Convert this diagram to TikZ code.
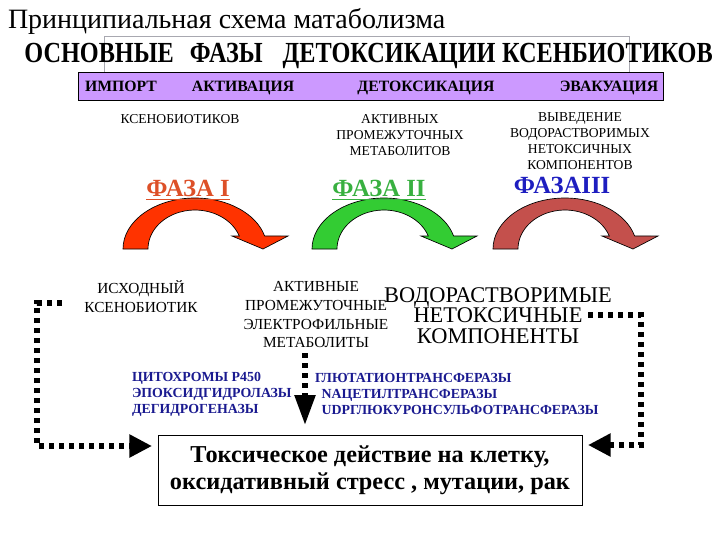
\documentclass[tikz,border=0pt]{standalone}
\usepackage{fontspec}
\setmainfont{Liberation Serif}
\usetikzlibrary{arrows.meta,calc}
\definecolor{barpurple}{HTML}{CC99FF}
\definecolor{framegray}{HTML}{A8A8B0}
\definecolor{phaseIfill}{HTML}{FF3300}
\definecolor{phaseIIfill}{HTML}{33CC33}
\definecolor{phaseIIIfill}{HTML}{C4504C}
\definecolor{phaseItext}{HTML}{DD5028}
\definecolor{phaseIItext}{HTML}{38B040}
\definecolor{phaseIIItext}{HTML}{1E1EC0}
\definecolor{enzblue}{HTML}{1A1A90}
\tikzset{
  titletext/.style={font=\fontsize{21}{24}\selectfont, anchor=base west},
  headtext/.style={font=\fontsize{18.2}{22}\selectfont\bfseries},
  bartext/.style={font=\fontsize{11.8}{14}\selectfont\bfseries, anchor=base},
  smalltext/.style={font=\fontsize{10.2}{12}\selectfont, align=center},
  phasetext/.style={font=\fontsize{18.5}{22}\selectfont\bfseries},
  midtext/.style={font=\fontsize{11.5}{13.9}\selectfont, align=center},
  bigtext/.style={font=\fontsize{16.8}{15.6}\selectfont, align=center},
  enztext/.style={font=\fontsize{10.4}{12}\selectfont\bfseries, text=enzblue, align=left, anchor=west},
  boxtext/.style={draw, line width=0.75pt, font=\fontsize{18.2}{20.25}\selectfont\bfseries, align=center, minimum width=318pt, minimum height=52.5pt},
  dotline/.style={line width=4.1pt, dash pattern=on 4.1pt off 3.4pt, line cap=butt},
  sidehead/.style={-{Triangle[length=17pt,width=16.5pt]}},
  downhead/.style={-{Triangle[length=22.5pt,width=15pt]}},
  arcshape/.style={draw=black, line width=0.5pt},
  arcarrow/.pic={
    \path[pic actions] (-72,0) arc[start angle=180, end angle=14.8, x radius=54pt, y radius=38.25pt]
      -- (93,-13) -- (68,0) -- (37,-13) -- (44.3,-13)
      arc[start angle=19.5, end angle=180, x radius=35.25pt, y radius=29.25pt] -- cycle;
  }
}
\begin{document}
\begin{tikzpicture}[x=0.75pt,y=-0.75pt, every node/.style={inner sep=0pt, outer sep=0pt}]
\useasboundingbox (0,0) rectangle (720,540);
\fill[white] (0,0) rectangle (720,540);

% title and heading
\node[titletext] (title) at (8,28) {Принципиальная схема матаболизма};
\draw[framegray, line width=0.6pt] (104,74) |- (629,36) -- (629,74);
\node[headtext] (heading) at (368.5,56) {\scalebox{1}[1.2]{ОСНОВНЫЕ\hspace{12pt}ФАЗЫ\hspace{15pt}ДЕТОКСИКАЦИИ\hspace{5pt}КСЕНБИОТИКОВ}};

% purple bar
\node[draw, line width=0.75pt, fill=barpurple, minimum width=438.75pt, minimum height=21pt] (bar) at (370.5,86) {};
\node[bartext] (import) at (121,91) {ИМПОРТ};
\node[bartext] (activ) at (243,91) {АКТИВАЦИЯ};
\node[bartext] (detox) at (426,91) {ДЕТОКСИКАЦИЯ};
\node[bartext] (evac) at (609,91) {ЭВАКУАЦИЯ};

% small labels
\node[smalltext] (lblI) at (180,119) {КСЕНОБИОТИКОВ};
\node[smalltext] (lblII) at (400,135) {АКТИВНЫХ\\ПРОМЕЖУТОЧНЫХ\\МЕТАБОЛИТОВ};
\node[smalltext] (lblIII) at (580,141.5) {ВЫВЕДЕНИЕ\\ВОДОРАСТВОРИМЫХ\\НЕТОКСИЧНЫХ\\КОМПОНЕНТОВ};

% phase arrows
\pic[arcshape, fill=phaseIfill] at (195,249) {arcarrow};
\pic[arcshape, fill=phaseIIfill] at (384,249) {arcarrow};
\pic[arcshape, fill=phaseIIIfill] at (565,249) {arcarrow};
\node[phasetext, text=phaseItext] (phI) at (188,190) {\underline{ФАЗА I}};
\node[phasetext, text=phaseIItext] (phII) at (379,190) {\underline{ФАЗА II}};
\node[phasetext, text=phaseIIItext] (phIII) at (562,185) {ФАЗАIII};

% lower labels
\node[midtext] (source) at (141,296.5) {ИСХОДНЫЙ\\КСЕНОБИОТИК};
\node[midtext] (active) at (316,314.75) {АКТИВНЫЕ\\ПРОМЕЖУТОЧНЫЕ\\ЭЛЕКТРОФИЛЬНЫЕ\\МЕТАБОЛИТЫ};
\node[bigtext] (soluble) at (498,315.5) {ВОДОРАСТВОРИМЫЕ\\НЕТОКСИЧНЫЕ\\КОМПОНЕНТЫ};

% enzymes
\node[enztext] (enzI) at (132,394) {ЦИТОХРОМЫ P450\\ЭПОКСИДГИДРОЛАЗЫ\\ДЕГИДРОГЕНАЗЫ};
\node[enztext] (enzII) at (315,394) {ГЛЮТАТИОНТРАНСФЕРАЗЫ\\\hspace*{5pt}NАЦЕТИЛТРАНСФЕРАЗЫ\\\hspace*{5pt}UDPГЛЮКУРОНСУЛЬФОТРАНСФЕРАЗЫ};

% result box
\node[boxtext] (box) at (370,470) {Токсическое действие на клетку,\\ оксидативный стресс , мутации, рак};

% dotted connectors
\coordinate (lstart) at (62,303);
\coordinate (rstart) at (588,315);
\coordinate (mstart) at (305,353);
\draw[dotline, sidehead] (lstart) -| (37,446) -- ($(box.north west)+(-6,11)$);
\draw[dotline, sidehead] (rstart) -| (641,445) -- ($(box.north east)+(6,10)$);
\draw[dotline, downhead] (mstart) -- ($(mstart |- box.north)+(0,-10)$);
\end{tikzpicture}
\end{document}
